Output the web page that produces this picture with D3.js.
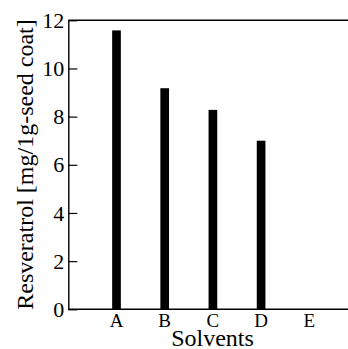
<!DOCTYPE html>
<html>
<head>
<meta charset="utf-8">
<script src="https://cdn.jsdelivr.net/npm/d3@7"></script>
<style>
  html, body { margin: 0; padding: 0; background: #fff; }
  svg { display: block; }
  svg text { font-family: "Liberation Serif", serif !important; }
</style>
</head>
<body>
<svg id="chart" width="348" height="349"></svg>
<script>
const categories = ["A", "B", "C", "D", "E"];
const resveratrol = [11.58, 9.18, 8.28, 7.0, 0];
const yTicks = [0, 2, 4, 6, 8, 10, 12];
const yLabel = "Resveratrol [mg/1g-seed coat]";
const xLabel = "Solvents";

(function () {
const svg = d3.select("#chart");
const W = 348;
const mLeft = 68.3, mTop = 20.3, mBottom = 309.3;

const x = d3.scaleBand()
  .domain(categories)
  .range([mLeft + 24.1, mLeft + 24.1 + 241])
  .paddingInner(0.82)
  .paddingOuter(0.41);

const y = d3.scaleLinear().domain([0, 12]).range([mBottom, mTop]);

// bars
svg.append("g").selectAll("rect")
  .data(categories.map((c, i) => ({ c, v: resveratrol[i] })))
  .join("rect")
  .attr("x", d => x(d.c))
  .attr("width", x.bandwidth())
  .attr("y", d => y(d.v))
  .attr("height", d => y(0) - y(d.v))
  .attr("fill", "#000");

// top frame line
svg.append("line")
  .attr("x1", mLeft).attr("x2", W)
  .attr("y1", mTop).attr("y2", mTop)
  .attr("stroke", "#000").attr("stroke-width", 1.4);

// bottom axis line
svg.append("line")
  .attr("x1", mLeft).attr("x2", W)
  .attr("y1", mBottom).attr("y2", mBottom)
  .attr("stroke", "#000").attr("stroke-width", 1.4);

// y axis
const yAxis = svg.append("g")
  .attr("transform", `translate(${mLeft},0)`)
  .call(d3.axisLeft(y).tickValues(yTicks).tickFormat(d3.format("d"))
    .tickSizeInner(-9).tickSizeOuter(0).tickPadding(4));
yAxis.attr("font-family", null).attr("font-size", null);
yAxis.select(".domain").attr("stroke", "#000").attr("stroke-width", 1.4);
yAxis.selectAll(".tick line").attr("stroke", "#000").attr("stroke-width", 1.2);
yAxis.selectAll(".tick text")
  .attr("fill", "#000")
  .style("font-size", "22px");

// x axis labels
const xAxis = svg.append("g")
  .attr("transform", `translate(0,${mBottom})`)
  .call(d3.axisBottom(x).tickSize(0).tickPadding(4));
xAxis.attr("font-family", null).attr("font-size", null);
xAxis.select(".domain").remove();
xAxis.selectAll(".tick text")
  .attr("fill", "#000")
  .style("font-size", "19px");

// axis titles
svg.append("text")
  .attr("x", 212.5).attr("y", 345.5)
  .attr("text-anchor", "middle")
  .style("font-size", "24px")
  .attr("fill", "#000")
  .text(xLabel);

svg.append("text")
  .attr("transform", `translate(33,164.5) rotate(-90)`)
  .attr("text-anchor", "middle")
  .style("font-size", "24px")
  .attr("fill", "#000")
  .text(yLabel);
})();
</script>
</body>
</html>
